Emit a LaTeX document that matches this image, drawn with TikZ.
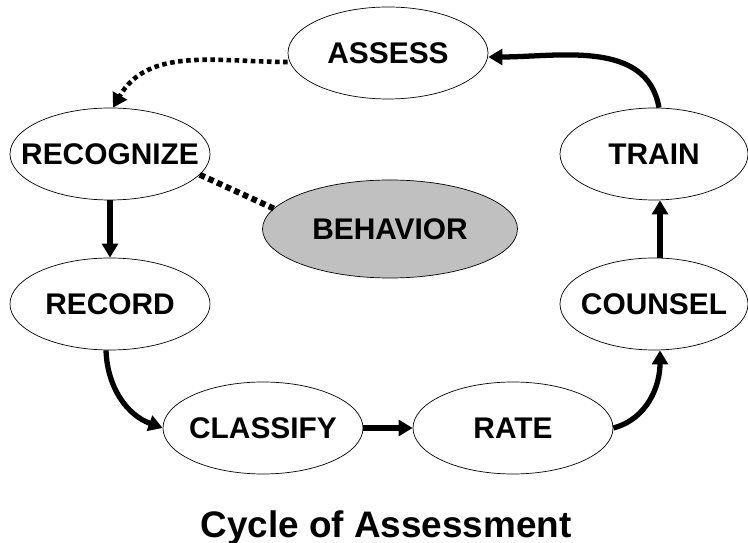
\documentclass[tikz,border=0pt]{standalone}
\usepackage{fontspec}
\setmainfont{Liberation Sans}
\usepackage{xcolor}
\usetikzlibrary{arrows.meta, positioning, shapes.geometric}
\definecolor{behaviorgray}{RGB}{192,192,192}

\begin{document}
\begin{tikzpicture}[
    stage/.style={ellipse, draw, thin, fill=white, minimum width=4cm, minimum height=1.84cm, inner xsep=-0.4cm, inner ysep=0pt, font=\fontsize{17}{20}\selectfont\bfseries},
    flow/.style={line width=3pt, -{Triangle[length=8pt, width=9pt]}}
]
    \useasboundingbox (0,0) rectangle (14.96,10.86);

    % Stages of the cycle
    \node[stage] (assess) at (7.76,9.80) {ASSESS};
    \node[stage] (recognize) at (2.20,7.78) {RECOGNIZE};
    \node[stage] (record) at (2.20,4.78) {RECORD};
    \node[stage] (classify) at (5.26,2.30) {CLASSIFY};
    \node[stage] (rate) at (10.26,2.30) {RATE};
    \node[stage, minimum width=3.76cm] (counsel) at (13.08,4.78) {COUNSEL};
    \node[stage, minimum width=3.76cm] (train) at (13.08,7.78) {TRAIN};
    \node[stage, fill=behaviorgray, minimum width=5.1cm, minimum height=1.96cm] (behavior) at (7.80,6.28) {BEHAVIOR};

    % Connectors
    \draw[flow, line width=2.6pt, dash pattern=on 2.6pt off 2pt] ([yshift=-0.18cm]assess.west) to[out=180,in=60] ([xshift=0.06cm]recognize.north);
    \draw[line width=3.4pt, dash pattern=on 3.2pt off 2.2pt] (recognize.-13) -- (behavior.170);
    \draw[flow] (recognize.south) -- (record.north);
    \draw[flow] ([xshift=-0.08cm]record.south) to[out=-88,in=160] (classify.west);
    \draw[flow] (classify.east) -- (rate.west);
    \draw[flow] (rate.east) to[out=15,in=-90] ([xshift=0.12cm]counsel.south);
    \draw[flow] ([xshift=0.12cm]counsel.north) -- ([xshift=0.12cm]train.south);
    \draw[flow] ([xshift=0.1cm]train.north) to[out=100,in=0] ([yshift=-0.08cm]assess.east);

    % Title
    \node[anchor=base, font=\fontsize{21}{25}\selectfont\bfseries] (title) at (7.72,0.12) {Cycle of Assessment};
\end{tikzpicture}
\end{document}
